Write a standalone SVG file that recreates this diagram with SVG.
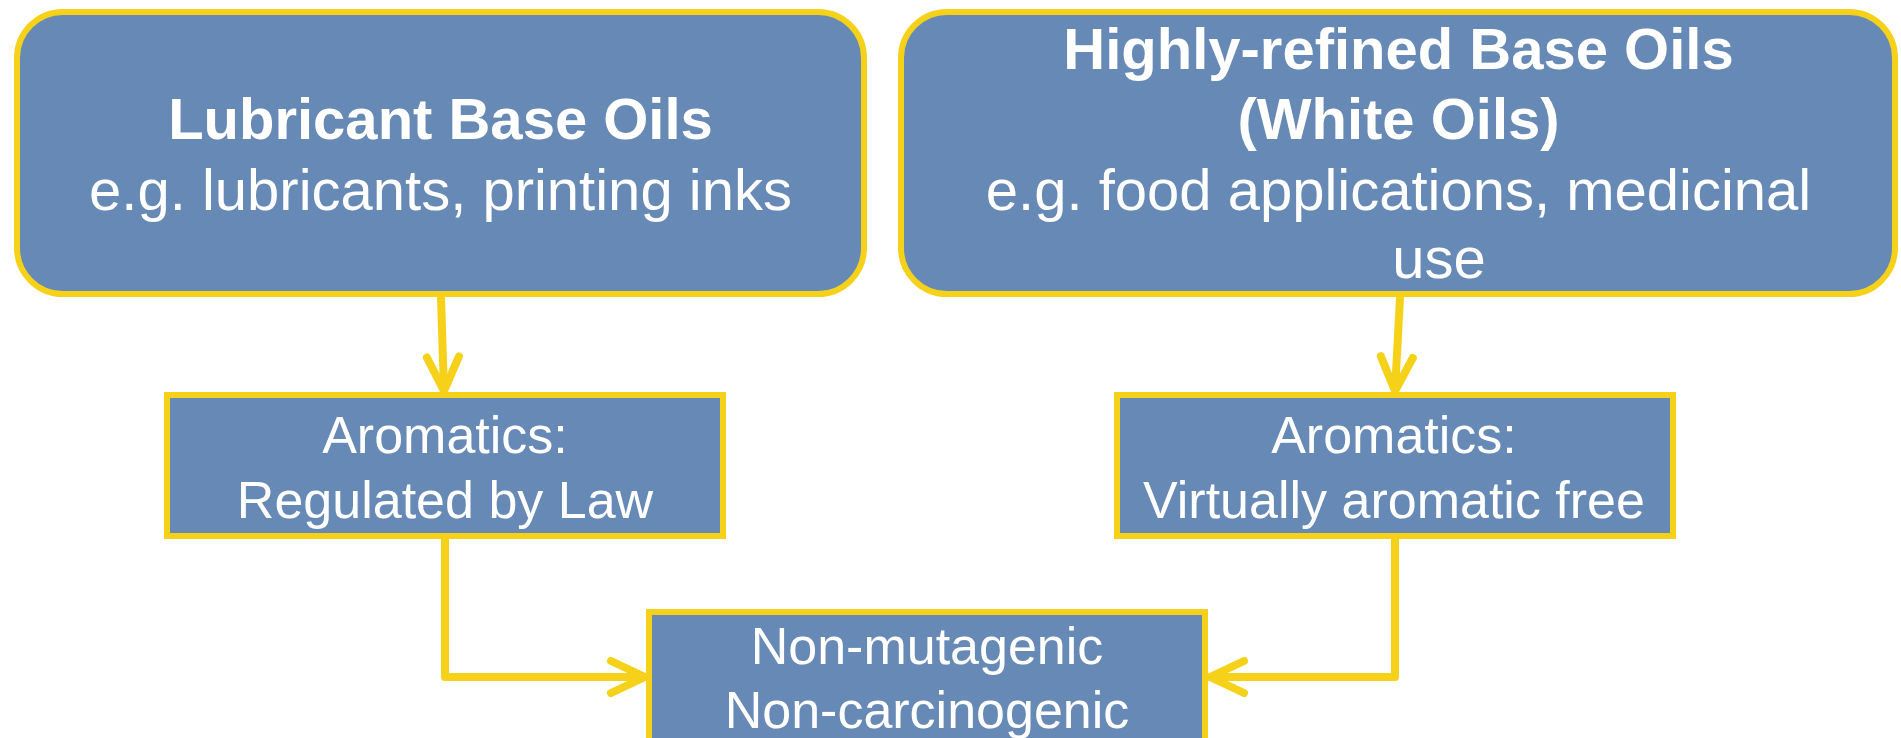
<svg xmlns="http://www.w3.org/2000/svg" width="1901" height="738" viewBox="0 0 1901 738">
<style>
.box{fill:#6789B5;stroke:#F6D11A;stroke-width:6}
.t{fill:#FFFFFF;font-family:"Liberation Sans",Arial,sans-serif;text-anchor:middle}
.b{font-weight:bold;font-size:58px}
.r58{font-size:58px}
.r52{font-size:52px}
.conn{fill:none;stroke:#F6D11A;stroke-width:8;stroke-linecap:round;stroke-linejoin:round}
</style>
<defs>
<marker id="ah" markerUnits="userSpaceOnUse" markerWidth="44" markerHeight="44" viewBox="-40 -22 44 44" refX="0" refY="0" orient="auto" overflow="visible">
<path d="M-34,-16 L0,0 L-34,16" fill="none" stroke="#F6D11A" stroke-width="8" stroke-linecap="round" stroke-linejoin="round"/>
</marker>
</defs>
<rect width="1901" height="738" fill="#FFFFFF"/>
<g id="connectors">
<path class="conn" d="M441,298 L444,391" marker-end="url(#ah)"/>
<path class="conn" d="M1400,298 L1395,391" marker-end="url(#ah)"/>
<path class="conn" d="M445,539 L445,677 L645,677" marker-end="url(#ah)"/>
<path class="conn" d="M1395,539 L1395,677 L1210,677" marker-end="url(#ah)"/>
</g>
<g id="node-lubricant">
<rect class="box" x="17" y="12" width="847" height="282" rx="46" ry="46"/>
<text class="t b" x="440.5" y="139">Lubricant Base Oils</text>
<text class="t r58" x="440.5" y="210">e.g. lubricants, printing inks</text>
</g>
<g id="node-white-oils">
<rect class="box" x="901" y="12" width="994" height="282" rx="46" ry="46"/>
<text class="t b" x="1398.5" y="69">Highly-refined Base Oils</text>
<text class="t b" x="1398.5" y="139">(White Oils)</text>
<text class="t r58" x="1398.5" y="210">e.g. food applications, medicinal</text>
<text class="t r58" x="1439" y="278">use</text>
</g>
<g id="node-regulated">
<rect class="box" x="167" y="395" width="556" height="141"/>
<text class="t r52" x="445" y="453">Aromatics:</text>
<text class="t r52" x="445" y="517.5">Regulated by Law</text>
</g>
<g id="node-aromatic-free">
<rect class="box" x="1117" y="395" width="556" height="141"/>
<text class="t r52" x="1394" y="453">Aromatics:</text>
<text class="t r52" x="1394" y="517.5">Virtually aromatic free</text>
</g>
<g id="node-non-mutagenic">
<rect class="box" x="649" y="612" width="556" height="200"/>
<text class="t r52" x="927" y="664">Non-mutagenic</text>
<text class="t r52" x="927" y="727.5">Non-carcinogenic</text>
</g>
</svg>
